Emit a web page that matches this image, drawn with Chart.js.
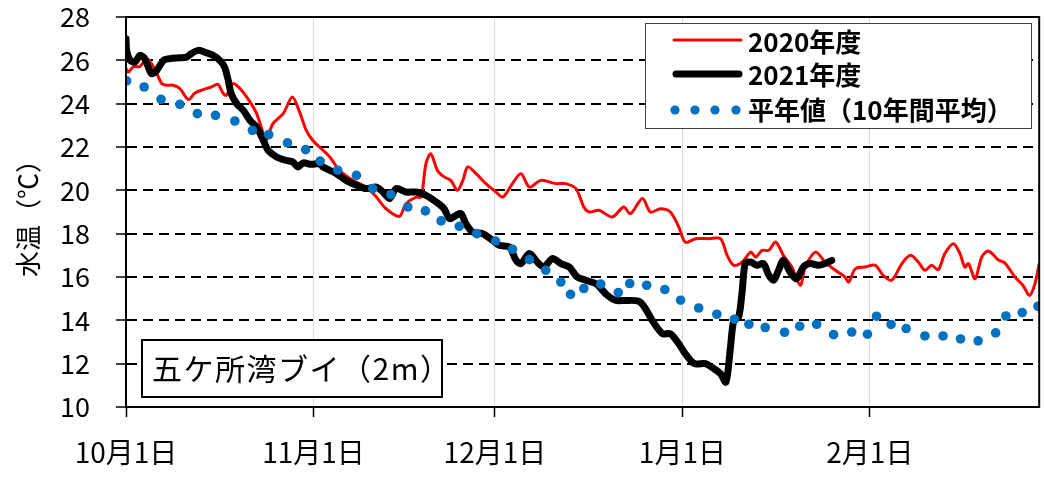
<!DOCTYPE html>
<html>
<head>
<meta charset="utf-8">
<script src="https://cdn.jsdelivr.net/npm/chart.js@4"></script>
<style>
  body { margin: 0; background: #fff; }
  #wrap { width: 1044px; height: 480px; }
</style>
</head>
<body>
<div id="wrap"><canvas id="myChart" width="1044" height="480"></canvas></div>
<script>
// days counted from Oct 1 (0) to Mar 1 (151)
var monthDays = [0, 31, 61, 92, 123];
var monthLabels = ['10月1日', '11月1日', '12月1日', '1月1日', '2月1日'];

var day2020 = [0, 0.4, 1.2, 2.3, 3.4, 4.2, 5.1, 5.9, 6.7, 7.8, 8.9, 10.3, 11.4, 12.8, 14.1, 15.2, 16.1, 16.6, 17.7, 19.1,
    20.5, 21.6, 22.7, 23.2, 24.3, 26.0, 27.5, 28.7, 29.8, 30.9, 32.0, 33.7, 35.3, 37.5, 39.7, 41.4, 43.0, 45.2, 46.3, 48.0,
    48.8, 49.6, 50.4, 51.5, 52.6, 53.7, 54.8, 55.7, 56.5, 57.9, 59.5, 61.2, 62.3, 63.9, 65.3, 66.7, 68.6, 71.1, 72.7, 74.4,
    75.7, 76.6, 78.2, 80.4, 82.3, 83.4, 85.4, 86.7, 88.4, 90.0, 91.4, 92.5, 94.2, 96.4, 98.3, 99.4, 100.5, 101.9, 103.3, 104.1,
    105.2, 106.3, 107.4, 108.7, 110.1, 111.5, 112.3, 114.0, 115.6, 117.3, 118.9, 119.5, 120.6, 122.2, 123.9, 125.2, 126.6, 128.3, 129.7, 131.0,
    132.1, 133.2, 134.3, 135.4, 136.8, 137.9, 138.7, 139.3, 140.4, 141.5, 142.6, 144.2, 145.3, 147.0, 148.3, 149.4, 150.3, 151];
var temp2020 = [25.62, 25.46, 25.70, 25.72, 26.08, 25.85, 25.39, 24.93, 24.85, 24.85, 24.70, 24.19, 24.49, 24.65, 24.77, 24.89, 24.46, 24.39, 24.93, 24.62,
    24.08, 23.54, 22.62, 22.31, 23.08, 23.54, 24.31, 23.62, 22.77, 22.30, 22.00, 21.54, 20.92, 20.46, 20.15, 19.69, 19.15, 18.80, 19.38, 19.69,
    19.69, 21.23, 21.69, 20.92, 20.62, 20.46, 20.00, 20.46, 21.08, 20.77, 20.31, 19.92, 19.69, 20.31, 20.77, 20.15, 20.46, 20.31, 20.31, 20.08,
    19.23, 19.00, 19.08, 18.77, 19.23, 18.92, 19.62, 19.00, 19.15, 19.00, 18.31, 17.60, 17.77, 17.77, 17.77, 17.00, 16.54, 16.69, 17.15, 16.92,
    17.23, 17.23, 17.62, 17.00, 16.46, 15.62, 16.46, 17.15, 16.69, 16.31, 16.00, 15.77, 16.38, 16.46, 16.54, 16.08, 15.85, 16.62, 17.00, 16.69,
    16.31, 16.54, 16.34, 17.08, 17.54, 17.08, 16.46, 16.62, 15.92, 16.92, 17.20, 16.80, 16.65, 16.00, 15.62, 15.15, 15.69, 16.62];

var day2021 = [0, 0.1, 0.7, 1.5, 2.3, 3.1, 4.2, 5.1, 6.2, 7.3, 8.9, 10.0, 10.8, 11.9, 13.0, 14.4, 15.5, 16.3, 16.9, 17.4,
    18.3, 19.4, 20.5, 21.6, 22.7, 23.5, 24.9, 26.5, 27.6, 28.4, 29.3, 30.6, 32.0, 32.6, 34.8, 36.4, 38.1, 39.7, 41.4, 42.5,
    43.6, 44.7, 46.3, 48.0, 49.6, 51.3, 52.6, 53.5, 54.6, 55.4, 56.2, 57.3, 59.0, 60.6, 61.7, 63.4, 64.5, 65.3, 66.7, 68.0,
    69.1, 70.5, 71.9, 73.3, 74.6, 76.0, 77.7, 79.6, 81.0, 82.6, 84.8, 85.9, 87.0, 88.7, 90.0, 91.4, 92.5, 94.0, 95.8, 97.2,
    98.3, 99.2, 99.9, 100.5, 101.3, 101.9, 102.4, 103.3, 104.3, 105.4, 106.3, 107.1, 107.9, 108.7, 109.8, 110.9, 112.0, 113.1, 114.5, 115.6, 116.7];
var temp2021 = [27.00, 26.46, 26.00, 25.92, 26.23, 26.08, 25.39, 25.54, 26.00, 26.08, 26.12, 26.15, 26.31, 26.46, 26.38, 26.23, 26.00, 25.69, 25.08, 24.46,
    24.00, 23.69, 23.23, 22.92, 22.31, 21.85, 21.54, 21.38, 21.31, 21.08, 21.27, 21.20, 21.23, 21.08, 20.77, 20.46, 20.23, 20.08, 20.15, 19.92,
    19.62, 20.08, 19.92, 19.92, 19.77, 19.46, 19.15, 18.69, 18.85, 18.92, 18.46, 18.08, 18.00, 17.69, 17.46, 17.38, 16.77, 16.62, 17.08, 16.69,
    16.46, 16.85, 16.62, 16.46, 16.00, 15.85, 15.69, 15.15, 14.92, 14.92, 14.88, 14.54, 14.00, 13.38, 13.38, 12.92, 12.45, 12.00, 12.00, 11.77,
    11.54, 11.15, 12.62, 14.00, 14.15, 15.38, 16.62, 16.69, 16.54, 16.62, 16.08, 15.85, 16.31, 16.77, 16.23, 15.92, 16.46, 16.62, 16.54, 16.62, 16.77];

var dayAvg = [0.1, 3.0, 5.8, 8.9, 11.8, 14.8, 18.0, 20.9, 23.6, 26.7, 29.7, 32.1, 35.0, 38.1, 40.8, 43.8, 46.6, 49.5, 52.1, 55.1,
    58.0, 61.1, 63.9, 66.7, 69.4, 71.9, 73.5, 75.7, 78.5, 81.4, 83.3, 86.1, 89.1, 91.7, 94.7, 97.7, 100.6, 103.0, 105.7, 108.9,
    111.4, 114.2, 117.0, 120.0, 122.6, 124.1, 126.5, 129.0, 132.1, 135.1, 138.0, 140.9, 143.8, 145.5, 148.2, 150.8];
var tempAvg = [25.05, 24.77, 24.20, 23.97, 23.54, 23.46, 23.20, 22.77, 22.57, 22.19, 21.88, 21.35, 20.93, 20.69, 20.08, 19.80, 19.23, 19.05, 18.59, 18.34,
    18.00, 17.66, 17.28, 16.80, 16.31, 15.77, 15.20, 15.47, 15.67, 15.28, 15.70, 15.62, 15.42, 14.93, 14.57, 14.28, 14.05, 13.82, 13.67, 13.45,
    13.73, 13.82, 13.34, 13.46, 13.36, 14.19, 13.81, 13.62, 13.28, 13.28, 13.14, 13.05, 13.42, 14.20, 14.36, 14.65];

var seriesNames = ['2020年度', '2021年度', '平年値（10年間平均）'];
var stationName = '五ケ所湾ブイ（2m）';

function toPoints(xs, ys) {
    var pts = [];
    for (var i = 0; i < xs.length; i++) {
        pts.push({ x: xs[i], y: ys[i] });
    }
    return pts;
}

var jpFont = "'Noto Sans CJK JP', 'Noto Sans', sans-serif";

var framePlugin = {
    id: 'frame',
    afterDatasetsDraw: function (chart) {
        var ctx = chart.ctx;
        var a = chart.chartArea;
        ctx.save();
        ctx.strokeStyle = '#000';
        ctx.lineWidth = 2;
        ctx.strokeRect(a.left, a.top, a.right - a.left, a.bottom - a.top);
        ctx.restore();
    },
    afterDraw: function (chart) {
        var ctx = chart.ctx;
        ctx.save();

        // legend box
        ctx.fillStyle = '#fff';
        ctx.fillRect(645, 23, 386, 105);
        ctx.strokeStyle = '#404040';
        ctx.lineWidth = 1;
        ctx.strokeRect(645.5, 23.5, 386, 105);

        ctx.lineCap = 'round';
        ctx.strokeStyle = '#ff0000';
        ctx.lineWidth = 3;
        ctx.beginPath();
        ctx.moveTo(674, 40);
        ctx.lineTo(741, 40);
        ctx.stroke();

        ctx.strokeStyle = '#000';
        ctx.lineWidth = 7;
        ctx.beginPath();
        ctx.moveTo(676, 74);
        ctx.lineTo(739, 74);
        ctx.stroke();

        ctx.fillStyle = '#0070c0';
        [675, 695, 715, 736].forEach(function (x) {
            ctx.beginPath();
            ctx.arc(x, 110, 4.6, 0, Math.PI * 2);
            ctx.fill();
        });

        ctx.fillStyle = '#000';
        ctx.font = 'bold 26px ' + jpFont;
        ctx.textBaseline = 'middle';
        ctx.textAlign = 'left';
        ctx.fillText(seriesNames[0], 748, 42);
        ctx.fillText(seriesNames[1], 748, 75);
        ctx.fillText(seriesNames[2], 748, 110);

        // station box
        ctx.fillStyle = '#fff';
        ctx.fillRect(142, 340, 300, 57);
        ctx.strokeStyle = '#000';
        ctx.lineWidth = 2;
        ctx.strokeRect(142, 340, 300, 57);
        ctx.fillStyle = '#000';
        ctx.font = '30px ' + jpFont;
        ctx.letterSpacing = '1.5px';
        ctx.fillText(stationName, 152, 369);

        ctx.restore();
    }
};

function renderChart() {
    var ctx = document.getElementById('myChart');
    new Chart(ctx, {
        type: 'line',
        plugins: [framePlugin],
        data: {
            datasets: [{
                label: seriesNames[2],
                data: toPoints(dayAvg, tempAvg),
                showLine: false,
                pointRadius: 4.8,
                pointBorderWidth: 0,
                pointBackgroundColor: '#0070c0',
                borderColor: '#0070c0',
                order: 0
            }, {
                label: seriesNames[1],
                data: toPoints(day2021, temp2021),
                borderColor: '#000',
                borderWidth: 7,
                borderJoinStyle: 'round',
                borderCapStyle: 'round',
                pointRadius: 0,
                tension: 0.3,
                order: 1
            }, {
                label: seriesNames[0],
                data: toPoints(day2020, temp2020),
                borderColor: '#ff0000',
                borderWidth: 3,
                borderJoinStyle: 'round',
                pointRadius: 0,
                tension: 0.3,
                order: 2
            }]
        },
        options: {
            responsive: false,
            animation: false,
            layout: {
                padding: { top: 17, right: 3, left: 0, bottom: 0 }
            },
            plugins: {
                legend: { display: false },
                tooltip: { enabled: false }
            },
            scales: {
                x: {
                    type: 'linear',
                    min: 0,
                    max: 151,
                    afterBuildTicks: function (scale) {
                        scale.ticks = monthDays.map(function (v) { return { value: v }; });
                    },
                    afterFit: function (scale) {
                        scale.height = 73;
                        scale.paddingLeft = 0;
                        scale.paddingRight = 0;
                    },
                    ticks: {
                        autoSkip: false,
                        maxRotation: 0,
                        padding: 19,
                        color: '#000',
                        font: { family: jpFont, size: 28 },
                        callback: function (v) {
                            var i = monthDays.indexOf(v);
                            return i >= 0 ? monthLabels[i] : '';
                        }
                    },
                    grid: {
                        color: '#d9d9d9',
                        lineWidth: 1,
                        tickLength: 10,
                        tickColor: '#000',
                        tickWidth: 1.5
                    },
                    border: { display: true, color: '#000', width: 2 }
                },
                y: {
                    min: 10,
                    max: 28,
                    afterFit: function (scale) {
                        scale.width = 126;
                        scale.paddingTop = 0;
                        scale.paddingBottom = 0;
                    },
                    ticks: {
                        stepSize: 2,
                        padding: 26,
                        color: '#000',
                        font: { family: jpFont, size: 27 }
                    },
                    title: {
                        display: true,
                        text: '水温（℃）',
                        color: '#000',
                        font: { family: jpFont, size: 26 },
                        padding: { top: 13, bottom: 0 }
                    },
                    grid: {
                        color: function (c) {
                            return (c.tick && c.tick.value > 10 && c.tick.value < 28) ? '#000' : 'rgba(0,0,0,0)';
                        },
                        lineWidth: 2,
                        tickLength: 10,
                        tickColor: '#000',
                        tickWidth: 1.5
                    },
                    border: { display: true, color: '#000', width: 2, dash: [10, 6] }
                }
            }
        }
    });
}

renderChart();
</script>
</body>
</html>
